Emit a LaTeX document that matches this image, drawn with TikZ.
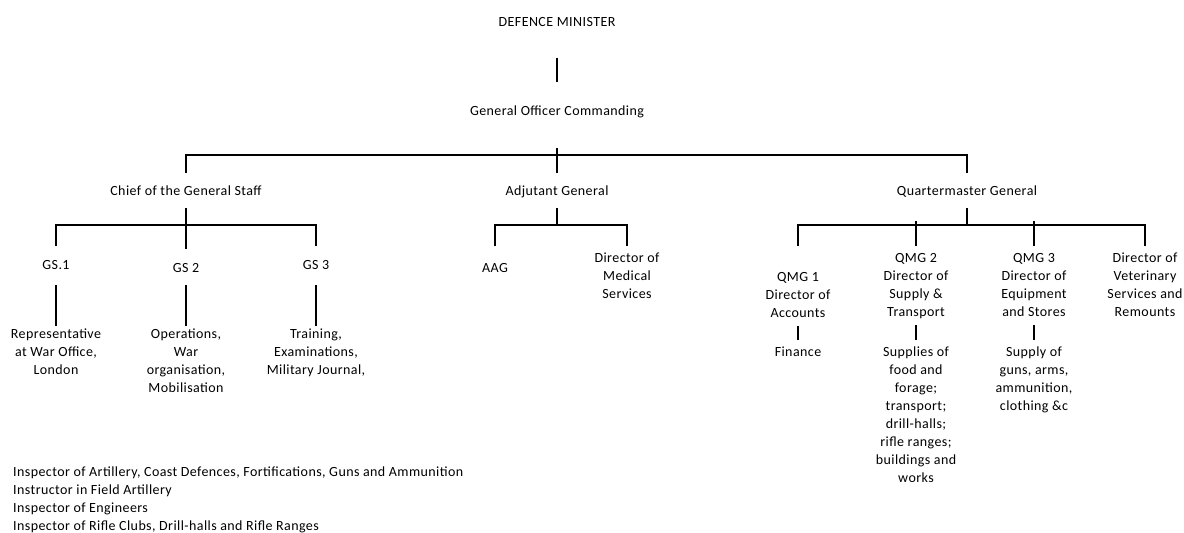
\documentclass[tikz,border=0pt]{standalone}
\usepackage{fontspec}
\setmainfont[LetterSpace=3]{Carlito}
\begin{document}
\begin{tikzpicture}[x=1pt,y=-1pt,
  lbl/.style={anchor=north,inner sep=0pt,align=center,font=\fontsize{14}{18}\selectfont},
  ln/.style={line width=1.1pt,black}]
\useasboundingbox (0,0) rectangle (1184,533);
\def\S{\strut}
% level 0-1
\node[lbl] (dm)  at (557,13.9) {\S DEFENCE MINISTER\S};
\node[lbl] (goc) at (557,102.9) {\S General Officer Commanding\S};
% level 2
\node[lbl] (cgs) at (186,182.9) {\S Chief of the General Staff\S};
\node[lbl] (ag)  at (557,182.9) {\S Adjutant General\S};
\node[lbl] (qmg) at (967,182.9) {\S Quartermaster General\S};
% GS
\node[lbl] (gs1) at (56,256.9) {\S GS.1\S};
\node[lbl] (gs2) at (186,259.9) {\S GS 2\S};
\node[lbl] (gs3) at (316,256.9) {\S GS 3\S};
\node[lbl] (rep) at (56,325.9) {\S Representative\\at War Office,\\London\S};
\node[lbl] (ops) at (186,325.9) {\S Operations,\\War\\organisation,\\Mobilisation\S};
\node[lbl] (trn) at (316,325.9) {\S Training,\\Examinations,\\Military Journal,\S};
% AG
\node[lbl] (aag) at (495,259.9) {\S AAG\S};
\node[lbl] (dms) at (627,249.9) {\S Director of\\Medical\\Services\S};
% QMG
\node[lbl] (q1) at (798,268.9) {\S QMG 1\\Director of\\Accounts\S};
\node[lbl] (q2) at (916,249.9) {\S QMG 2\\Director of\\Supply \&\\Transport\S};
\node[lbl] (q3) at (1034,249.9) {\S QMG 3\\Director of\\Equipment\\and Stores\S};
\node[lbl] (dvs) at (1145,249.9) {\S Director of\\Veterinary\\Services and\\Remounts\S};
\node[lbl] (fin) at (798,343.9) {\S Finance\S};
\node[lbl] (sup) at (916,343.9) {\S Supplies of\\food and\\forage;\\transport;\\drill-halls;\\rifle ranges;\\buildings and\\works\S};
\node[lbl] (sof) at (1034,343.9) {\S Supply of\\guns, arms,\\ammunition,\\clothing \&c\S};
% inspectors
\node[lbl,anchor=north west,align=left] (insp) at (13,463.9) {\S Inspector of Artillery, Coast Defences, Fortifications, Guns and Ammunition\\Instructor in Field Artillery\\Inspector of Engineers\\Inspector of Rifle Clubs, Drill-halls and Rifle Ranges\S};
% junctions
\coordinate (j0) at (557,155);
\coordinate (j1) at (186,225);
\coordinate (j2) at (557,225);
\coordinate (j3) at (967,225);
% connectors
\draw[ln] ([yshift=-25.6pt]dm.south) -- ([yshift=21.4pt]goc.north);
\draw[ln] ([yshift=-27pt]goc.south) -- ([yshift=10pt]ag.north);
\draw[ln] ([yshift=10pt]cgs.north) |- (j0) -| ([yshift=10pt]qmg.north);
% CGS
\draw[ln] ([yshift=-7pt]cgs.south) -- ([yshift=11pt]gs2.north);
\draw[ln] ([yshift=11pt]gs1.north) |- (j1) -| ([yshift=11pt]gs3.north);
\draw[ln] ([yshift=-10pt]gs1.south) -- ([yshift=0pt]rep.north);
\draw[ln] ([yshift=-7pt]gs2.south) -- ([yshift=0pt]ops.north);
\draw[ln] ([yshift=-10pt]gs3.south) -- ([yshift=0pt]trn.north);
% AG
\draw[ln] ([yshift=-7pt]ag.south) -- (j2);
\draw[ln] ([yshift=14pt]aag.north) |- (j2) -| ([yshift=4pt]dms.north);
% QMG
\draw[ln] ([yshift=-7pt]qmg.south) -- (j3);
\draw[ln] ([yshift=23pt]q1.north) |- (j3) -| ([yshift=4pt]dvs.north);
\draw[ln] ([yshift=4pt]q2.north) -- ([yshift=4pt]q2.north |- j3);
\draw[ln] ([yshift=4pt]q3.north) -- ([yshift=4pt]q3.north |- j3);
\draw[ln] ([yshift=-3pt]q1.south) -- ([yshift=4pt]fin.north);
\draw[ln] ([yshift=-3pt]q2.south) -- ([yshift=4pt]sup.north);
\draw[ln] ([yshift=-3pt]q3.south) -- ([yshift=4pt]sof.north);
\end{tikzpicture}
\end{document}
